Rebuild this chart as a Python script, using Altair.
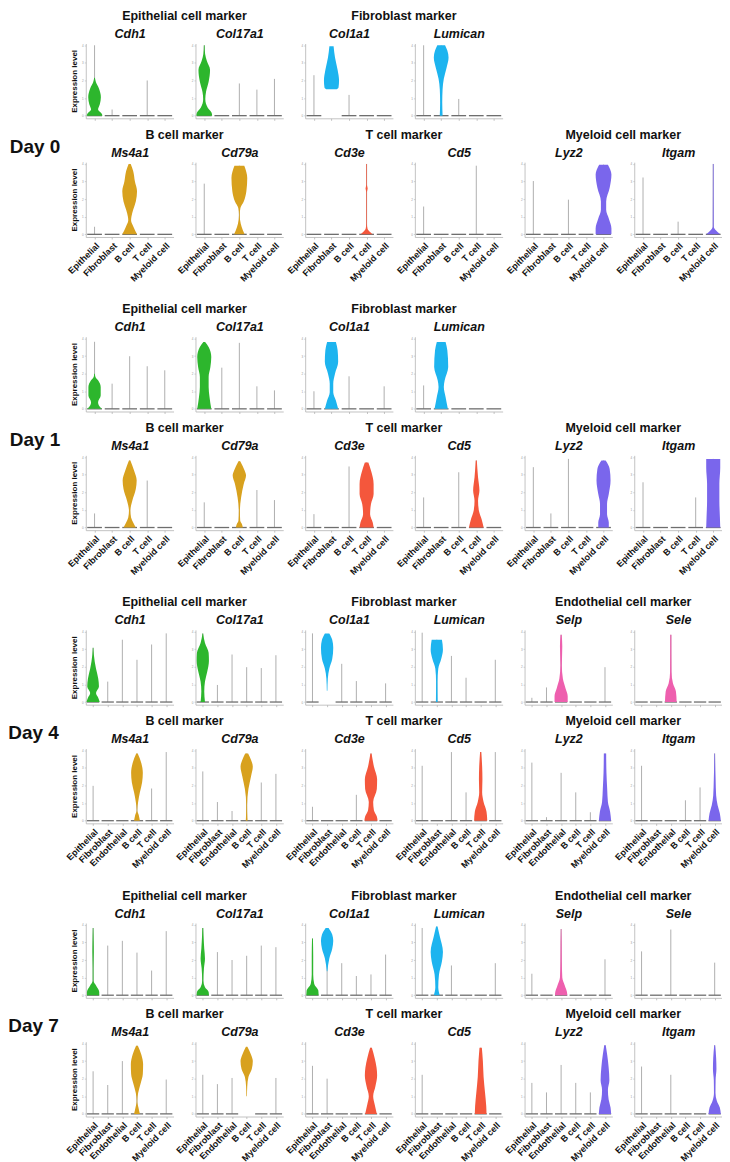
import altair as alt
import pandas as pd

FONT = "Liberation Sans"

CATS5 = ["Epithelial", "Fibroblast", "B cell", "T cell", "Myeloid cell"]
CATS6 = ["Epithelial", "Fibroblast", "Endothelial", "B cell", "T cell", "Myeloid cell"]

COLORS = {"Epithelial": "#2db62d", "Fibroblast": "#1db4ef", "Endothelial": "#ee5fae",
          "B cell": "#d8a11e", "T cell": "#f4573c", "Myeloid cell": "#7a66ec"}

# ---- top of each cell-type's violin (max expression), -1 = nothing drawn ----
D0_CDH1 = [4.0, 0.35, 0, 2.0, 0]
D0_COL17A1 = [4.0, 0, 1.83, 1.48, 2.09]
D0_COL1A1 = [2.3, -1, 1.18, 0, 0]
D0_LUMICAN = [4.0, 4.0, 0.95, 0, 0]
D0_MS4A1 = [0.43, 0, 4.0, 0, 0]
D0_CD79A = [2.88, 0, 3.9, 0, 0]
D0_CD3E = [0, 0, 0, 4.0, 0]
D0_CD5 = [1.58, 0, 0, 3.9, 0]
D0_LYZ2 = [3.03, 0, 1.97, 0, 3.96]
D0_ITGAM = [3.23, 0, 0.72, 0, 4.0]

D1_CDH1 = [3.81, 1.43, 2.99, 2.42, 2.19]
D1_COL17A1 = [3.8, 2.34, 3.75, 1.28, 1.05]
D1_COL1A1 = [1.0, 3.8, 1.85, 0, 1.28]
D1_LUMICAN = [1.33, 3.8, 0, 0, 0]
D1_MS4A1 = [0.8, 0, 3.81, 2.67, 0]
D1_CD79A = [1.43, 0, 3.77, 2.13, 1.56]
D1_CD3E = [0.76, 0, 3.47, 3.7, 0]
D1_CD5 = [1.71, 0, 3.14, 3.81, 0]
D1_LYZ2 = [3.43, 0.8, 3.9, 0, 3.81]
D1_ITGAM = [2.57, 0, 0, 1.71, 3.9]

D4_CDH1 = [3.08, 1.16, 3.54, 2.4, 3.27, 3.9]
D4_COL17A1 = [3.9, 0.97, 2.7, 1.98, 1.93, 2.66]
D4_COL1A1 = [3.9, -1, 2.17, 1.19, 0, 1.06]
D4_LUMICAN = [3.94, 3.54, 2.62, 1.38, 0, 2.4]
D4_SELP = [0.24, 0.83, 3.82, 0, 0, 1.98]
D4_SELE = [0, 0, 3.82, 0, 0, 0]
D4_MS4A1 = [1.98, 0, 0, 3.82, 1.83, 3.9]
D4_CD79A = [2.8, 1.06, 0.55, 3.82, 2.17, 2.66]
D4_CD3E = [0.79, 0, 0, 1.47, 3.82, 0]
D4_CD5 = [3.12, 0, 3.9, 1.61, 3.9, 3.9]
D4_LYZ2 = [3.3, 0.2, 2.72, 1.61, 0.48, 3.82]
D4_ITGAM = [3.12, 0, 0, 1.16, 1.89, 3.82]

D7_CDH1 = [3.82, 2.82, 3.09, 2.42, 1.4, 3.64]
D7_COL17A1 = [3.82, 2.45, 2.0, 2.24, 2.82, 2.73]
D7_COL1A1 = [3.22, 3.82, 1.82, 1.09, 1.18, 2.31]
D7_LUMICAN = [3.82, 3.9, 1.69, 0, 0, 1.82]
D7_SELP = [1.22, 0, 3.76, 0, 0, 2.04]
D7_SELE = [2.49, 0, 3.73, 0, 0, 1.85]
D7_MS4A1 = [2.42, 1.64, 3.0, 3.87, 0, 1.95]
D7_CD79A = [2.22, 1.69, 2.04, -1, 0, 2.04]
D7_CD3E = [2.73, 2.0, 0, 0, 3.76, 0]
D7_CD5 = [2.22, 0, 0, 0, 3.76, 0]
D7_LYZ2 = [1.76, 1.22, 2.78, 1.76, 1.22, 3.9]
D7_ITGAM = [2.69, 0, 2.22, 0, 0, 3.9]

# ---- violin outlines: [expression level, half width] ----
D0_CDH1_EPI = [[0, .45], [.12, .4], [.35, .2], [.65, .3], [1.05, .36], [1.55, .25], [1.9, .08], [2.15, .02]]
D0_COL17A1_EPI = [[0, .45], [.16, .42], [.45, .2], [.95, .06], [1.34, .1], [1.93, .25], [2.6, .33], [3.1, .15], [3.5, .05], [4.0, .02]]
D0_COL1A1_FIB = [[1.5, .3], [1.6, .4], [2.0, .43], [2.6, .35], [3.3, .2], [3.94, .12]]
D0_LUMICAN_FIB = [[0, .08], [.75, .06], [1.5, .08], [2.1, .15], [2.7, .3], [3.3, .42], [3.7, .35], [4.0, .22]]
D0_MS4A1_B = [[0, .42], [.42, .22], [.8, .08], [1.0, .1], [1.4, .2], [1.87, .35], [2.45, .42], [3.0, .3], [3.6, .2], [4.0, .06]]
D0_CD79A_B = [[0, .3], [.23, .2], [.6, .08], [1.1, .02], [1.5, .06], [1.87, .25], [2.45, .4], [3.2, .45], [3.9, .28]]
D0_CD3E_T = [[0, .35], [.13, .2], [.33, .05], [.6, .02], [2.4, .02], [2.6, .06], [2.8, .02], [4.0, .02]]
D0_LYZ2_MYE = [[0, .45], [.33, .45], [.9, .3], [1.4, .15], [1.87, .15], [2.65, .35], [3.4, .45], [3.96, .25]]
D0_ITGAM_MYE = [[0, .4], [.23, .15], [.45, .03], [4.0, .02]]

D1_CDH1_EPI = [[0, .42], [.19, .25], [.38, .2], [.76, .35], [1.24, .35], [1.62, .2], [1.81, .05], [2.0, .02]]
D1_COL17A1_EPI = [[0, .4], [.67, .3], [1.24, .25], [1.81, .25], [2.38, .35], [2.95, .4], [3.52, .25], [3.8, .05]]
D1_COL1A1_FIB = [[0, .38], [.48, .25], [.95, .1], [1.43, .1], [2.0, .2], [2.67, .38], [3.33, .35], [3.8, .25]]
D1_LUMICAN_FIB = [[0, .38], [.67, .25], [1.24, .15], [1.62, .2], [2.38, .4], [3.33, .35], [3.8, .25]]
D1_MS4A1_B = [[0, .35], [.29, .2], [.57, .08], [.95, .04], [1.52, .15], [2.19, .35], [2.67, .4], [3.24, .25], [3.81, .04]]
D1_CD79A_B = [[0, .2], [.19, .15], [.38, .05], [.95, .03], [1.71, .1], [2.48, .25], [2.95, .38], [3.24, .3], [3.77, .05]]
D1_CD3E_T = [[0, .4], [.29, .35], [.76, .2], [1.33, .25], [1.9, .4], [2.48, .4], [3.24, .25], [3.7, .1]]
D1_CD5_T = [[0, .42], [.48, .3], [.95, .15], [1.52, .1], [2.1, .18], [2.86, .1], [3.81, .03]]
D1_LYZ2_MYE = [[0, .3], [.29, .3], [.76, .2], [1.33, .2], [1.9, .3], [2.67, .4], [3.33, .35], [3.81, .12]]
D1_ITGAM_MYE = [[0, .4], [.6, .38], [1.5, .35], [2.48, .35], [3.4, .4], [3.9, .4]]

D4_CDH1_EPI = [[0, .45], [.24, .35], [.51, .2], [.88, .4], [1.34, .35], [1.89, .2], [2.7, .05], [3.08, .02]]
D4_COL17A1_EPI = [[0, .15], [.6, .1], [1.16, .15], [1.7, .3], [2.35, .42], [2.8, .4], [3.36, .15], [3.9, .02]]
D4_COL1A1_FIB = [[.64, .02], [1.34, .05], [1.89, .15], [2.44, .35], [3.08, .42], [3.54, .35], [3.9, .15]]
D4_LUMICAN_FIB = [[0, .06], [1.16, .05], [1.89, .1], [2.44, .3], [2.99, .42], [3.54, .35]]
D4_SELP_ENDO = [[0, .45], [.33, .45], [.79, .3], [1.34, .12], [2.07, .05], [3.17, .08], [3.82, .04]]
D4_SELE_ENDO = [[0, .4], [.6, .35], [1.06, .15], [1.7, .05], [3.82, .04]]
D4_MS4A1_B = [[0, .2], [.33, .12], [.6, .02], [1.06, .08], [1.61, .2], [2.17, .35], [2.72, .4], [3.27, .3], [3.82, .05]]
D4_CD79A_B = [[0, .06], [.15, .05], [.88, .03], [1.8, .12], [2.53, .3], [3.08, .42], [3.45, .3], [3.82, .1]]
D4_CD3E_T = [[0, .45], [.24, .4], [.6, .2], [1.06, .15], [1.8, .4], [2.35, .42], [3.08, .2], [3.82, .04]]
D4_CD5_T = [[0, .45], [.51, .4], [1.06, .2], [1.61, .1], [2.35, .12], [3.08, .1], [3.9, .04]]
D4_LYZ2_MYE = [[0, .42], [.51, .35], [1.06, .2], [1.8, .15], [2.72, .1], [3.82, .08]]
D4_ITGAM_MYE = [[0, .42], [.42, .35], [.88, .2], [1.43, .1], [2.35, .06], [3.82, .02]]

D7_CDH1_EPI = [[0, .42], [.18, .42], [.55, .2], [.82, .03], [1.55, .03], [2.45, .05], [3.09, .04], [3.82, .02]]
D7_COL17A1_EPI = [[0, .42], [.18, .4], [.45, .15], [.82, .04], [1.55, .08], [2.09, .15], [2.64, .1], [3.36, .05], [3.82, .03]]
D7_COL1A1_EPI = [[0, .42], [.27, .4], [.64, .12], [1.18, .05], [2.27, .05], [3.22, .03]]
D7_COL1A1_FIB = [[1.36, .02], [2.09, .15], [2.64, .35], [3.09, .42], [3.45, .35], [3.82, .1]]
D7_LUMICAN_FIB = [[0, .2], [.45, .1], [1.18, .15], [1.91, .35], [2.45, .42], [3.36, .2], [3.9, .05]]
D7_SELP_ENDO = [[0, .42], [.18, .4], [.55, .25], [1.0, .08], [1.91, .05], [3.0, .04], [3.76, .02]]
D7_MS4A1_B = [[0, .2], [.36, .1], [.73, .02], [1.18, .08], [1.73, .25], [2.27, .4], [2.82, .42], [3.36, .3], [3.87, .06]]
D7_CD79A_B = [[1.0, .02], [1.55, .04], [2.09, .12], [2.55, .35], [3.0, .42], [3.36, .3], [3.82, .05]]
D7_CD3E_T = [[0, .4], [.55, .25], [1.0, .15], [1.55, .3], [2.18, .42], [2.64, .38], [3.18, .25], [3.76, .06]]
D7_CD5_T = [[0, .4], [.45, .38], [1.18, .3], [2.09, .2], [3.0, .15], [3.76, .08]]
D7_LYZ2_MYE = [[0, .42], [.36, .38], [.82, .25], [1.36, .2], [1.91, .3], [2.64, .25], [3.36, .15], [3.9, .05]]
D7_ITGAM_MYE = [[0, .42], [.36, .35], [.73, .15], [1.18, .05], [1.91, .06], [2.55, .12], [3.18, .1], [3.9, .03]]

GRAY_LINE = "#8c8c8c"
GRAY_BASE = "#6e6e6e"
AXIS_GRAY = "#b4b4b4"
PW, PH = 88, 75
COL_GAP = 22
ROW_GAP = 44
DAY_GAP = 19
TXT = "#111111"


def panel(gene, cats, tops, shapes, bottom, ytitle, group_title):
    n = len(cats)
    rules = pd.DataFrame([{"x": i, "top": t, "zero": 0.0, "xl": i - 0.42, "xr": i + 0.42}
                          for i, t in enumerate(tops) if t >= 0])
    xscale = alt.Scale(domain=[-0.5, n - 0.5], nice=False, zero=False)
    yscale = alt.Scale(domain=[-0.15, 4.1], nice=False, zero=False)
    label_expr = "[" + ",".join("'%s'" % c for c in cats) + "][datum.value]"
    xaxis = alt.Axis(values=list(range(n)), labelExpr=label_expr, labels=bottom,
                     labelAngle=-45, labelFontSize=9, labelFontWeight="bold",
                     labelColor=TXT, labelOverlap=False, title=None, grid=False,
                     tickSize=2, domainColor=AXIS_GRAY, tickColor=AXIS_GRAY,
                     labelPadding=2, domainWidth=0.8, tickWidth=0.8)
    topaxis = alt.Axis(orient="top", title=gene, labels=False, ticks=False, domain=False,
                       grid=False, titleFontStyle="italic", titleFontWeight="bold",
                       titleFontSize=12.5, titleColor=TXT, titlePadding=3)
    yargs = dict(values=[0, 1, 2, 3, 4], labelFontSize=3, labelColor="#999",
                 tickSize=1.5, grid=False, domainColor=AXIS_GRAY, tickColor=AXIS_GRAY,
                 labelPadding=1, domainWidth=0.8, tickWidth=0.6)
    if ytitle:
        yargs.update(title="Expression level", titleFontSize=8, titleFontWeight="bold",
                     titlePadding=3, titleColor=TXT)
    else:
        yargs.update(title=None)
    yaxis = alt.Axis(**yargs)
    vline = alt.Chart(rules).mark_rule(color=GRAY_LINE, strokeWidth=0.7).encode(
        x=alt.X("x:Q", scale=xscale, axis=xaxis),
        y=alt.Y("zero:Q", scale=yscale, axis=yaxis), y2="top:Q")
    hline = alt.Chart(rules).mark_rule(color=GRAY_BASE, strokeWidth=1.3).encode(
        x=alt.X("xl:Q", scale=xscale, axis=topaxis), x2="xr:Q",
        y=alt.Y("zero:Q", scale=yscale, axis=yaxis))
    layers = [vline, hline]
    rows = []
    for cat, prof in shapes:
        i = cats.index(cat)
        for y, hw in prof:
            rows.append({"cat": cat, "y": y, "xl": i - hw, "xr": i + hw, "color": COLORS[cat]})
    if rows:
        area = alt.Chart(pd.DataFrame(rows)).mark_area(orient="horizontal", interpolate="monotone").encode(
            y=alt.Y("y:Q", scale=yscale, axis=yaxis),
            x=alt.X("xl:Q", scale=xscale, axis=None), x2="xr:Q",
            detail="cat:N", color=alt.Color("color:N", scale=None))
        layers.append(area)
    ch = alt.layer(*layers).resolve_axis(x="independent").properties(width=PW, height=PH)
    if group_title:
        ch = ch.properties(title=alt.TitleParams(
            group_title, anchor="start", align="center", frame="group",
            dx=(2 * PW + COL_GAP) / 2,
            fontSize=12.5, fontWeight="bold", offset=5, font=FONT, color=TXT))
    return ch


def blank():
    return alt.Chart(pd.DataFrame({"v": [0]})).mark_point(opacity=0).encode(
        x=alt.X("v:Q", axis=None), y=alt.Y("v:Q", axis=None)).properties(width=PW, height=PH)


def day_block(label, cats, top_groups, bottom_groups):
    cells = []
    for gi, groups in enumerate([top_groups, bottom_groups]):
        bottom = gi == 1
        count = 0
        for k, (gtitle, genes) in enumerate(groups):
            for j, (gene, tops, shapes) in enumerate(genes):
                cells.append(panel(gene, cats, tops, shapes, bottom, k == 0 and j == 0,
                                   gtitle if j == 0 else None))
                count += 1
        while count < 6:
            cells.append(blank())
            count += 1
    return alt.concat(*cells, columns=6, spacing={"row": ROW_GAP, "column": COL_GAP},
                      bounds="flush",
                      title=alt.TitleParams(label, orient="left", angle=0, anchor="middle",
                                            fontSize=19, fontWeight="bold", font=FONT,
                                            color=TXT, offset=6, align="left",
                                            baseline="middle"))


day0 = day_block("Day 0", CATS5,
    [("Epithelial cell marker", [("Cdh1", D0_CDH1, [("Epithelial", D0_CDH1_EPI)]),
                                 ("Col17a1", D0_COL17A1, [("Epithelial", D0_COL17A1_EPI)])]),
     ("Fibroblast marker", [("Col1a1", D0_COL1A1, [("Fibroblast", D0_COL1A1_FIB)]),
                            ("Lumican", D0_LUMICAN, [("Fibroblast", D0_LUMICAN_FIB)])])],
    [("B cell marker", [("Ms4a1", D0_MS4A1, [("B cell", D0_MS4A1_B)]),
                        ("Cd79a", D0_CD79A, [("B cell", D0_CD79A_B)])]),
     ("T cell marker", [("Cd3e", D0_CD3E, [("T cell", D0_CD3E_T)]),
                        ("Cd5", D0_CD5, [])]),
     ("Myeloid cell marker", [("Lyz2", D0_LYZ2, [("Myeloid cell", D0_LYZ2_MYE)]),
                              ("Itgam", D0_ITGAM, [("Myeloid cell", D0_ITGAM_MYE)])])])

day1 = day_block("Day 1", CATS5,
    [("Epithelial cell marker", [("Cdh1", D1_CDH1, [("Epithelial", D1_CDH1_EPI)]),
                                 ("Col17a1", D1_COL17A1, [("Epithelial", D1_COL17A1_EPI)])]),
     ("Fibroblast marker", [("Col1a1", D1_COL1A1, [("Fibroblast", D1_COL1A1_FIB)]),
                            ("Lumican", D1_LUMICAN, [("Fibroblast", D1_LUMICAN_FIB)])])],
    [("B cell marker", [("Ms4a1", D1_MS4A1, [("B cell", D1_MS4A1_B)]),
                        ("Cd79a", D1_CD79A, [("B cell", D1_CD79A_B)])]),
     ("T cell marker", [("Cd3e", D1_CD3E, [("T cell", D1_CD3E_T)]),
                        ("Cd5", D1_CD5, [("T cell", D1_CD5_T)])]),
     ("Myeloid cell marker", [("Lyz2", D1_LYZ2, [("Myeloid cell", D1_LYZ2_MYE)]),
                              ("Itgam", D1_ITGAM, [("Myeloid cell", D1_ITGAM_MYE)])])])

day4 = day_block("Day 4", CATS6,
    [("Epithelial cell marker", [("Cdh1", D4_CDH1, [("Epithelial", D4_CDH1_EPI)]),
                                 ("Col17a1", D4_COL17A1, [("Epithelial", D4_COL17A1_EPI)])]),
     ("Fibroblast marker", [("Col1a1", D4_COL1A1, [("Fibroblast", D4_COL1A1_FIB)]),
                            ("Lumican", D4_LUMICAN, [("Fibroblast", D4_LUMICAN_FIB)])]),
     ("Endothelial cell marker", [("Selp", D4_SELP, [("Endothelial", D4_SELP_ENDO)]),
                                  ("Sele", D4_SELE, [("Endothelial", D4_SELE_ENDO)])])],
    [("B cell marker", [("Ms4a1", D4_MS4A1, [("B cell", D4_MS4A1_B)]),
                        ("Cd79a", D4_CD79A, [("B cell", D4_CD79A_B)])]),
     ("T cell marker", [("Cd3e", D4_CD3E, [("T cell", D4_CD3E_T)]),
                        ("Cd5", D4_CD5, [("T cell", D4_CD5_T)])]),
     ("Myeloid cell marker", [("Lyz2", D4_LYZ2, [("Myeloid cell", D4_LYZ2_MYE)]),
                              ("Itgam", D4_ITGAM, [("Myeloid cell", D4_ITGAM_MYE)])])])

day7 = day_block("Day 7", CATS6,
    [("Epithelial cell marker", [("Cdh1", D7_CDH1, [("Epithelial", D7_CDH1_EPI)]),
                                 ("Col17a1", D7_COL17A1, [("Epithelial", D7_COL17A1_EPI)])]),
     ("Fibroblast marker", [("Col1a1", D7_COL1A1, [("Epithelial", D7_COL1A1_EPI), ("Fibroblast", D7_COL1A1_FIB)]),
                            ("Lumican", D7_LUMICAN, [("Fibroblast", D7_LUMICAN_FIB)])]),
     ("Endothelial cell marker", [("Selp", D7_SELP, [("Endothelial", D7_SELP_ENDO)]),
                                  ("Sele", D7_SELE, [])])],
    [("B cell marker", [("Ms4a1", D7_MS4A1, [("B cell", D7_MS4A1_B)]),
                        ("Cd79a", D7_CD79A, [("B cell", D7_CD79A_B)])]),
     ("T cell marker", [("Cd3e", D7_CD3E, [("T cell", D7_CD3E_T)]),
                        ("Cd5", D7_CD5, [("T cell", D7_CD5_T)])]),
     ("Myeloid cell marker", [("Lyz2", D7_LYZ2, [("Myeloid cell", D7_LYZ2_MYE)]),
                              ("Itgam", D7_ITGAM, [("Myeloid cell", D7_ITGAM_MYE)])])])

chart = alt.vconcat(day0, day1, day4, day7, spacing=DAY_GAP).properties(
    padding=0, background="white"
).configure(font=FONT).configure_view(stroke=None).configure_axis(
    labelFont=FONT, titleFont=FONT).configure_title(font=FONT)

chart.save("out.html", embed_options={"renderer": "svg", "actions": False})
